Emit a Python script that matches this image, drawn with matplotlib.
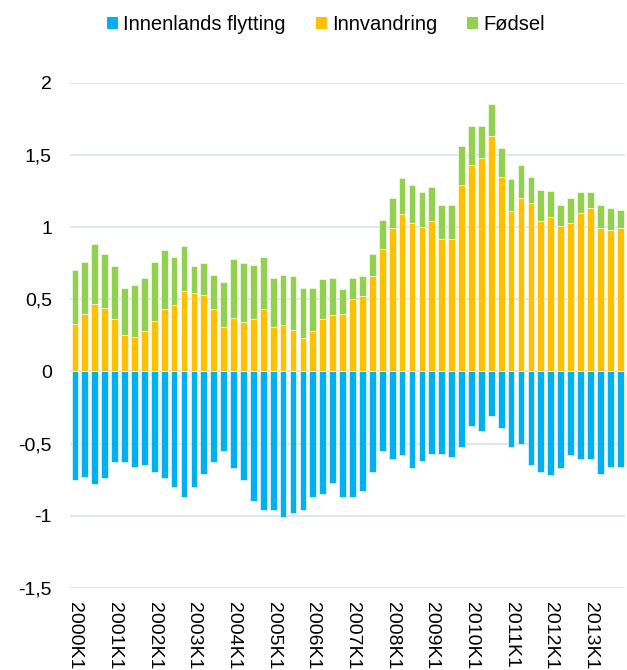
import numpy as np
import matplotlib
matplotlib.use('Agg')
import matplotlib.pyplot as plt
from matplotlib.patches import Patch

plt.rcParams['font.family'] = ['Liberation Sans', 'DejaVu Sans']

## quarters 2000K1 .. 2013K4
quarters = [f'{y}K{q}' for y in range(2000, 2014) for q in range(1, 5)]

## domestic migration (negative)
innenlands = [-0.75, -0.73, -0.78, -0.74, -0.63, -0.63, -0.66, -0.65,
              -0.70, -0.74, -0.80, -0.87, -0.80, -0.71, -0.63, -0.55,
              -0.67, -0.75, -0.90, -0.96, -0.96, -1.01, -0.98, -0.96,
              -0.87, -0.85, -0.77, -0.87, -0.87, -0.83, -0.70, -0.55,
              -0.61, -0.58, -0.67, -0.62, -0.57, -0.57, -0.59, -0.52,
              -0.38, -0.41, -0.31, -0.39, -0.52, -0.50, -0.65, -0.70,
              -0.72, -0.67, -0.58, -0.61, -0.61, -0.71, -0.66, -0.66]

## immigration
innvandring = [0.33, 0.40, 0.47, 0.44, 0.36, 0.25, 0.24, 0.28,
               0.35, 0.43, 0.46, 0.56, 0.54, 0.53, 0.43, 0.31,
               0.37, 0.34, 0.36, 0.43, 0.31, 0.32, 0.29, 0.23,
               0.28, 0.36, 0.39, 0.40, 0.50, 0.52, 0.66, 0.85,
               0.99, 1.09, 1.03, 1.00, 1.04, 0.92, 0.92, 1.29,
               1.43, 1.48, 1.63, 1.35, 1.11, 1.20, 1.17, 1.04,
               1.07, 1.01, 1.03, 1.10, 1.13, 0.99, 0.98, 0.99]

## births (stacked on top of immigration)
fodsel = [0.37, 0.36, 0.41, 0.37, 0.37, 0.33, 0.36, 0.37,
          0.41, 0.41, 0.33, 0.31, 0.19, 0.22, 0.24, 0.31,
          0.41, 0.41, 0.38, 0.36, 0.34, 0.35, 0.37, 0.35,
          0.30, 0.28, 0.26, 0.17, 0.15, 0.14, 0.15, 0.20,
          0.21, 0.25, 0.26, 0.24, 0.24, 0.23, 0.23, 0.27,
          0.27, 0.22, 0.22, 0.20, 0.22, 0.23, 0.18, 0.22,
          0.18, 0.14, 0.17, 0.14, 0.11, 0.16, 0.15, 0.13]

series_names = ['Innenlands flytting', 'Innvandring', 'Fødsel']
colors = ['#00B0F0', '#FFC000', '#92D050']

x = np.arange(len(quarters))
width = 0.68

fig = plt.figure(figsize=(6.27, 6.70), dpi=100)
ax = fig.add_axes([0.1116, 0.1224, 0.8854, 0.7542])

ax.bar(x, innenlands, width, color=colors[0], edgecolor='white', linewidth=0.4, zorder=3)
ax.bar(x, innvandring, width, color=colors[1], edgecolor='white', linewidth=0.4, zorder=3)
ax.bar(x, fodsel, width, bottom=innvandring, color=colors[2], edgecolor='white', linewidth=0.4, zorder=3)

ax.set_xlim(-0.5, len(quarters) - 0.5)
ax.set_ylim(-1.5, 2)
ax.set_yticks([-1.5, -1, -0.5, 0, 0.5, 1, 1.5, 2])
ax.set_yticklabels(['-1,5', '-1', '-0,5', '0', '0,5', '1', '1,5', '2'])
ax.set_xticks(x[::4])
ax.set_xticklabels(quarters[::4], rotation=270, ha='center', va='top')

ax.grid(axis='y', color='#D9E2F0', linewidth=1.2, zorder=0)
for s in ax.spines.values():
    s.set_visible(False)
ax.tick_params(axis='y', length=0, pad=13, labelsize=14)
ax.tick_params(axis='x', length=0, pad=10, labelsize=14)

handles = [Patch(facecolor=c) for c in colors]
fig.legend(handles, series_names, loc='center', bbox_to_anchor=(0.52, 0.963), ncol=3,
           frameon=False, fontsize=14.5, handlelength=0.55, handleheight=0.55,
           handletextpad=0.25, columnspacing=1.5)

fig.savefig('out.png', dpi=100)
